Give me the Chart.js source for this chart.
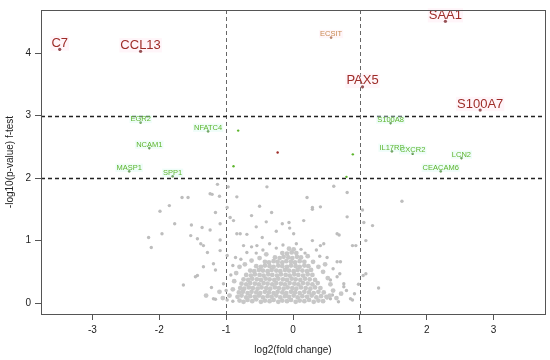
<!DOCTYPE html>
<html>
<head>
<meta charset="utf-8">
<script src="https://cdn.jsdelivr.net/npm/chart.js@4.4.1/dist/chart.umd.min.js"></script>
<style>
  html, body { margin: 0; padding: 0; background: #ffffff; }
  #wrap { width: 550px; height: 360px; }
</style>
</head>
<body>
<div id="wrap"><canvas id="c" width="550" height="360"></canvas></div>
<script>
// ---- Data ----
const xTicks = [-3, -2, -1, 0, 1, 2, 3];
const yTicks = [0, 1, 2, 3, 4];
const xCutoffs = [-1, 1];
const yCutoffs = [2, 3];

const redGenes = ['SAA1', 'C7', 'CCL13', 'PAX5', 'S100A7'];
const redX = [2.28, -3.49, -2.28, 1.04, 2.80];
const redY = [4.51, 4.06, 4.03, 3.46, 3.09];

const orangeGenes = ['ECSIT'];
const orangeX = [0.57];
const orangeY = [4.25];

const greenGenes = ['EGR2', 'NFATC4', 'NCAM1', 'MASP1', 'SPP1', 'S100A8', 'IL17RB', 'CXCR2', 'LCN2', 'CEACAM6'];
const greenX = [-2.28, -1.27, -2.15, -2.45, -1.80, 1.46, 1.48, 1.79, 2.52, 2.21];
const greenY = [2.89, 2.75, 2.48, 2.11, 2.03, 2.88, 2.43, 2.39, 2.32, 2.11];

// small significant points whose labels are too small to read
const smallGreenX = [-0.82, -0.89, 0.895, 0.80];
const smallGreenY = [2.76, 2.19, 2.38, 2.02];
const smallRedX = [-0.23];
const smallRedY = [2.41];

// non-significant genes, scattered
const grayOuter = [
  [-0.97,1.86],[-1.13,1.90],[-0.39,1.86],[-1.57,1.69],[-1.66,1.69],[-1.24,1.75],[-1.10,1.71],[-0.84,1.70],
  [-1.85,1.56],[-1.99,1.47],[-1.16,1.45],[-0.985,1.53],[-0.32,1.45],[-1.77,1.27],[-1.52,1.25],[-1.36,1.21],
  [-1.24,1.17],[-1.09,1.27],[-0.89,1.32],[-2.16,1.05],[-1.96,1.11],[-1.53,1.08],[-1.43,1.03],[-1.09,1.01],
  [-0.84,1.11],[-0.69,1.10],[-0.46,1.05],[-2.12,0.89],[-1.38,0.95],[-1.28,0.81],[-1.09,0.84],[-0.985,0.76],
  [-0.86,0.73],[-0.69,0.81],[-1.34,0.58],[-1.16,0.53],[-1.46,0.42],[-1.64,0.29],[-1.04,0.31],[-1.16,0.06],
  [-0.79,1.11],[0.01,1.11],[0.29,1.00],[0.66,1.11],[0.94,0.92],[1.09,1.00],[-1.34,0.92],[-0.74,0.92],
  [-0.54,0.92],[0.46,0.95],[0.51,0.73],[0.66,0.66],[-1.19,0.63],[-1.43,0.44],[0.66,0.42],[0.76,0.31],
  [1.09,0.47],[0.59,0.13],[0.89,0.05],[1.28,0.24],[-1.19,0.07],[-0.985,0.05],[0.51,0.08],
  [0.61,1.87],[0.81,1.77],[0.21,1.69],[1.63,1.63],[0.29,1.50],[0.41,1.54],[0.81,1.38],[1.04,1.49],
  [-0.06,1.29],[0.16,1.32],[1.06,1.29],[1.19,1.24],[0.69,1.09],[0.41,0.92],[0.89,0.92],[0.71,0.66],
  [1.05,0.44],[0.56,0.37],[0.76,0.26],[0.56,0.07],[0.86,0.07],[-1.21,1.74],[-0.94,1.37],[0.29,1.53],
  [-0.16,1.27],[-0.05,1.20],[-0.25,1.15],[-0.40,1.30],[-0.55,1.22],[-0.62,1.40],[-0.50,1.55],
  [-0.35,0.95],[-0.25,0.88],[-0.45,0.85],[-0.15,0.93],[0.05,0.95],[0.12,0.86],[-0.55,0.80],[0.18,0.80],
  [-0.90,0.60],[-0.78,0.70],[0.60,0.55],[0.70,0.47],[0.40,0.75],[0.35,0.85],[-0.62,0.90],[0.80,0.20],
  [0.92,0.15],[-1.00,0.20],[-1.22,0.25],[0.98,0.30],[-0.93,0.45],[0.68,0.02],[-0.90,0.03]
];

// dense cloud of non-significant genes
const grayCloud = [
  [-0.80,0.04],[-0.74,0.02],[-0.68,0.05],[-0.61,0.03],[-0.55,0.06],[-0.48,0.02],[-0.42,0.04],[-0.35,0.03],[-0.29,0.05],[-0.22,0.02],[-0.16,0.04],[-0.09,0.03],[-0.03,0.05],[0.04,0.02],[0.10,0.04],[0.17,0.03],[0.24,0.05],[0.31,0.02],[0.38,0.04],[0.45,0.03],
  [-0.83,0.10],[-0.77,0.12],[-0.70,0.09],[-0.64,0.11],[-0.57,0.10],[-0.51,0.12],[-0.45,0.09],[-0.38,0.11],[-0.32,0.10],[-0.25,0.12],[-0.19,0.09],[-0.12,0.11],[-0.06,0.10],[0.01,0.12],[0.07,0.09],[0.14,0.11],[0.21,0.10],[0.28,0.12],[0.35,0.09],[0.42,0.11],[0.50,0.10],
  [-0.81,0.17],[-0.75,0.18],[-0.68,0.16],[-0.62,0.18],[-0.55,0.17],[-0.49,0.16],[-0.42,0.18],[-0.36,0.17],[-0.29,0.16],[-0.23,0.18],[-0.16,0.17],[-0.10,0.16],[-0.03,0.18],[0.03,0.17],[0.10,0.16],[0.17,0.18],[0.24,0.17],[0.31,0.16],[0.38,0.18],[0.46,0.17],
  [-0.79,0.24],[-0.73,0.23],[-0.66,0.25],[-0.60,0.24],[-0.53,0.23],[-0.47,0.25],[-0.40,0.24],[-0.34,0.23],[-0.27,0.25],[-0.21,0.24],[-0.14,0.23],[-0.08,0.25],[-0.01,0.24],[0.05,0.23],[0.12,0.25],[0.19,0.24],[0.26,0.23],[0.33,0.25],[0.41,0.24],
  [-0.77,0.31],[-0.70,0.30],[-0.64,0.32],[-0.57,0.31],[-0.51,0.30],[-0.44,0.32],[-0.38,0.31],[-0.31,0.30],[-0.25,0.32],[-0.18,0.31],[-0.12,0.30],[-0.05,0.32],[0.02,0.31],[0.08,0.30],[0.15,0.32],[0.22,0.31],[0.29,0.30],[0.37,0.32],
  [-0.74,0.38],[-0.67,0.37],[-0.61,0.39],[-0.54,0.38],[-0.48,0.37],[-0.41,0.39],[-0.35,0.38],[-0.28,0.37],[-0.22,0.39],[-0.15,0.38],[-0.09,0.37],[-0.02,0.39],[0.04,0.38],[0.11,0.37],[0.18,0.39],[0.25,0.38],[0.33,0.37],
  [-0.70,0.45],[-0.63,0.44],[-0.57,0.46],[-0.50,0.45],[-0.44,0.44],[-0.37,0.46],[-0.31,0.45],[-0.24,0.44],[-0.18,0.46],[-0.11,0.45],[-0.05,0.44],[0.02,0.46],[0.08,0.45],[0.15,0.44],[0.22,0.46],[0.29,0.45],
  [-0.64,0.52],[-0.58,0.51],[-0.51,0.53],[-0.45,0.52],[-0.38,0.51],[-0.32,0.53],[-0.25,0.52],[-0.19,0.51],[-0.12,0.53],[-0.06,0.52],[0.01,0.51],[0.07,0.53],[0.14,0.52],[0.21,0.51],[0.27,0.53],
  [-0.55,0.59],[-0.48,0.58],[-0.42,0.60],[-0.35,0.59],[-0.29,0.58],[-0.22,0.60],[-0.16,0.59],[-0.09,0.58],[-0.03,0.60],[0.04,0.59],[0.10,0.58],[0.17,0.60],[0.23,0.59],
  [-0.42,0.66],[-0.36,0.65],[-0.29,0.67],[-0.23,0.66],[-0.16,0.65],[-0.10,0.67],[-0.03,0.66],[0.03,0.65],[0.10,0.67],[0.17,0.66],
  [-0.27,0.73],[-0.20,0.72],[-0.14,0.74],[-0.07,0.73],[-0.01,0.72],[0.06,0.74],[0.12,0.73],
  [-0.16,0.80],[-0.09,0.79],[-0.02,0.81],[0.05,0.80],[-0.06,0.87],[0.01,0.86],
  [-0.95,0.12],[-0.90,0.22],[-0.88,0.35],[-0.85,0.48],[-0.80,0.58],[-0.72,0.62],[-0.62,0.68],[-0.50,0.72],
  [-0.40,0.78],[0.22,0.75],[0.30,0.66],[0.38,0.58],[0.45,0.50],[0.52,0.40],[0.56,0.30],[0.60,0.20],
  [0.55,0.12],[0.65,0.08],[0.72,0.15],[0.48,0.62],[-1.05,0.08],[-1.10,0.18],[-1.30,0.12]
];

// ---- Helpers ----
const pts = (xs, ys) => xs.map((x, i) => ({ x: x, y: ys[i] }));
const pairPts = arr => arr.map(p => ({ x: p[0], y: p[1] }));

const FONT = '"Liberation Sans", Arial, Helvetica, sans-serif';
const BROWN = '#9e2c28';
const GREEN = '#5db52c';
const ORANGE = '#c98a52';
const GRAY = '#c8c8c8';

const refLines = {
  id: 'refLines',
  beforeDatasetsDraw(chart) {
    const { ctx, chartArea: a, scales: { x, y } } = chart;
    ctx.save();
    ctx.setLineDash([4, 3]);
    ctx.strokeStyle = '#666';
    ctx.lineWidth = 1;
    xCutoffs.forEach(v => {
      const px = Math.round(x.getPixelForValue(v)) + 0.5;
      ctx.beginPath(); ctx.moveTo(px, a.top); ctx.lineTo(px, a.bottom); ctx.stroke();
    });
    ctx.strokeStyle = '#222';
    ctx.lineWidth = 1.3;
    yCutoffs.forEach(v => {
      const py = Math.round(y.getPixelForValue(v)) + 0.5;
      ctx.beginPath(); ctx.moveTo(a.left, py); ctx.lineTo(a.right, py); ctx.stroke();
    });
    ctx.restore();
  },
  afterDraw(chart) {
    const { ctx, chartArea: a } = chart;
    ctx.save();
    ctx.strokeStyle = '#555';
    ctx.lineWidth = 1;
    ctx.strokeRect(Math.round(a.left) + 0.5, Math.round(a.top) + 0.5,
                   Math.round(a.right - a.left), Math.round(a.bottom - a.top));
    ctx.restore();
  }
};

const geneLabels = {
  id: 'geneLabels',
  afterDatasetsDraw(chart) {
    const { ctx, scales: { x, y } } = chart;
    const draw = (names, xs, ys, color, size, bg) => {
      ctx.save();
      ctx.font = size + 'px ' + FONT;
      ctx.textAlign = 'center';
      ctx.textBaseline = 'middle';
      names.forEach((n, i) => {
        const px = x.getPixelForValue(xs[i]);
        const py = y.getPixelForValue(ys[i]) - size * 0.46;
        const w = ctx.measureText(n).width;
        ctx.fillStyle = bg;
        ctx.fillRect(px - w / 2 - 1, py - size * 0.55, w + 2, size * 1.1);
        ctx.fillStyle = color;
        ctx.fillText(n, px, py);
      });
      ctx.restore();
    };
    draw(redGenes, redX, redY, BROWN, 13, 'rgba(255,220,232,0.28)');
    draw(orangeGenes, orangeX, orangeY, ORANGE, 7.5, 'rgba(255,225,235,0.3)');
    draw(greenGenes, greenX, greenY, GREEN, 7.5, 'rgba(215,250,240,0.4)');
  }
};

const ctx = document.getElementById('c').getContext('2d');
new Chart(ctx, {
  type: 'scatter',
  data: {
    datasets: [
      { data: pairPts(grayCloud), backgroundColor: GRAY, borderWidth: 0, pointRadius: 2.4 },
      { data: pairPts(grayOuter), backgroundColor: '#bdbdbd', borderWidth: 0, pointRadius: 1.7 },
      { data: pts(smallGreenX, smallGreenY), backgroundColor: GREEN, borderWidth: 0, pointRadius: 1.2 },
      { data: pts(smallRedX, smallRedY), backgroundColor: BROWN, borderWidth: 0, pointRadius: 1.2 },
      { data: pts(greenX, greenY), backgroundColor: '#3d7a1e', borderWidth: 0, pointRadius: 1.3 },
      { data: pts(orangeX, orangeY), backgroundColor: '#a0603a', borderWidth: 0, pointRadius: 1.3 },
      { data: pts(redX, redY), backgroundColor: '#6e1c1c', borderWidth: 0, pointRadius: 1.6 }
    ]
  },
  options: {
    responsive: false,
    animation: false,
    events: [],
    layout: { padding: { top: 7, right: 5, left: 0, bottom: 0 } },
    plugins: { legend: { display: false }, tooltip: { enabled: false } },
    scales: {
      x: {
        type: 'linear', min: -3.77, max: 3.77,
        afterBuildTicks: s => { s.ticks = xTicks.map(v => ({ value: v })); },
        afterFit: s => { s.height = 46; },
        grid: { display: true, drawOnChartArea: false, drawTicks: true, tickLength: 6, color: '#555' },
        border: { display: true, color: '#555' },
        ticks: { color: '#222', font: { family: FONT, size: 10 }, padding: 4, maxRotation: 0,
                 callback: v => String(v) },
        title: { display: true, text: 'log2(fold change)', color: '#222',
                 font: { family: FONT, size: 10 }, padding: { top: 2, bottom: 4 } }
      },
      y: {
        type: 'linear', min: -0.175, max: 4.69,
        afterBuildTicks: s => { s.ticks = yTicks.map(v => ({ value: v })); },
        afterFit: s => { s.width = 41; },
        grid: { display: true, drawOnChartArea: false, drawTicks: true, tickLength: 6, color: '#555' },
        border: { display: true, color: '#555' },
        ticks: { color: '#222', font: { family: FONT, size: 10 }, padding: 4,
                 callback: v => String(v) },
        title: { display: true, text: '-log10(p-value) f-test', color: '#222',
                 font: { family: FONT, size: 10 }, padding: { top: 4, bottom: 2 } }
      }
    }
  },
  plugins: [refLines, geneLabels]
});
</script>
</body>
</html>
